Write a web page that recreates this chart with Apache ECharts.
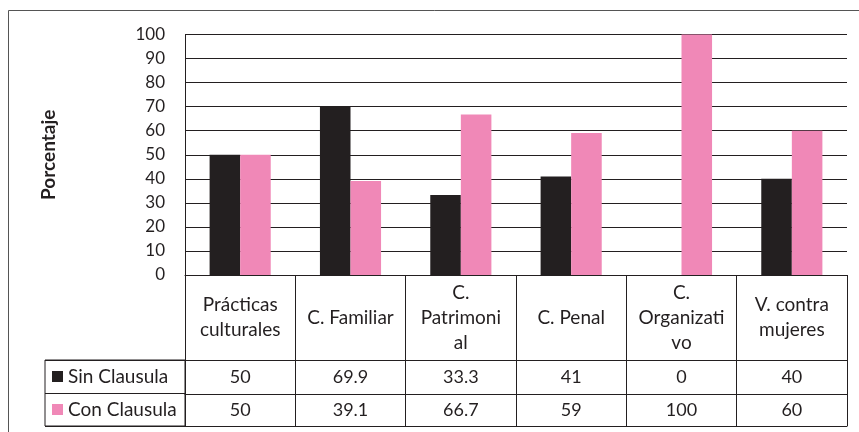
<!DOCTYPE html>
<html><head><meta charset="utf-8">
<script src="https://cdn.jsdelivr.net/npm/echarts@6/dist/echarts.min.js"></script>
<style>html,body{margin:0;padding:0;background:#fff}#c{width:859px;height:432px}</style>
</head><body><div id="c"></div>
<script>
const categories = ['Prácticas\nculturales', 'C. Familiar', 'C.\nPatrimoni\nal', 'C. Penal', 'C.\nOrganizati\nvo', 'V. contra\nmujeres'];
const seriesNames = ['Sin Clausula', 'Con Clausula'];
const sinClausula = [50, 69.9, 33.3, 41, 0, 40];
const conClausula = [50, 39.1, 66.7, 59, 100, 60];
const yTicks = [0, 10, 20, 30, 40, 50, 60, 70, 80, 90, 100];

const FONT = 'Lato';
const TXT = '#231f20';
const LINE = '#231f20';

const chart = echarts.init(document.getElementById('c'), null, {renderer: 'canvas'});
const tableAxis = (offset, tickLen, margin, formatter, showLabel, fontSize) => ({
  type: 'category', gridIndex: 0, position: 'bottom', offset: offset,
  data: categories,
  axisLine: {show: true, lineStyle: {color: LINE, width: 1}},
  axisTick: {show: tickLen > 0, length: tickLen, interval: 0, alignWithLabel: false, lineStyle: {color: LINE, width: 1}},
  axisLabel: {show: showLabel, interval: 0, margin: margin, verticalAlign: 'middle', fontFamily: FONT, fontSize: fontSize, lineHeight: 25, color: TXT, formatter: formatter},
  splitLine: {show: false}
});

chart.setOption({
  animation: false,
  backgroundColor: '#fff',
  textStyle: {fontFamily: FONT},
  graphic: [{type: 'rect', silent: true, shape: {x: 8.5, y: 10.5, width: 900, height: 500}, style: {fill: 'none', stroke: '#555', lineWidth: 1}}],
  legend: {
    data: seriesNames, orient: 'vertical', left: 52, top: 367, padding: 0,
    itemWidth: 11, itemHeight: 11, itemGap: 14, icon: 'rect',
    textStyle: {fontFamily: FONT, fontSize: 19, color: TXT}
  },
  grid: [
    {left: 185, right: 12, top: 34.5, bottom: 157, outerBoundsMode: 'none', containLabel: false},
    {left: 45, width: 140, top: 360, height: 66, show: true, borderColor: LINE, borderWidth: 1, outerBoundsMode: 'none', containLabel: false}
  ],
  xAxis: [
    tableAxis(0, 85, 42.5, (v) => v, true, 19),
    tableAxis(85, 34, 17, (v, i) => String(sinClausula[i]), true, 18),
    tableAxis(119, 32, 16, (v, i) => String(conClausula[i]), true, 18),
    tableAxis(151, 0, 0, (v) => '', false, 18),
    {type: 'value', gridIndex: 1, show: false}
  ],
  yAxis: [
    {type: 'value', gridIndex: 0, min: 0, max: 100, interval: 10,
     name: 'Porcentaje', nameLocation: 'middle', nameGap: 127,
     nameTextStyle: {fontFamily: FONT, fontSize: 19, fontWeight: 'bold', color: TXT},
     axisLine: {show: true, lineStyle: {color: LINE, width: 1}},
     axisTick: {show: false},
     axisLabel: {margin: 20, fontFamily: FONT, fontSize: 17, color: TXT, formatter: (v) => yTicks.includes(v) ? String(v) : ''},
     splitLine: {show: true, lineStyle: {color: LINE, width: 1}}},
    {type: 'category', gridIndex: 1, data: seriesNames, inverse: true,
     axisLine: {show: false}, axisTick: {show: false}, axisLabel: {show: false},
     splitLine: {show: true, lineStyle: {color: LINE, width: 1}}}
  ],
  series: [
    {name: seriesNames[0], type: 'bar', xAxisIndex: 0, yAxisIndex: 0, data: sinClausula, barWidth: '27.7%', barGap: '0%', itemStyle: {color: '#231f20'}},
    {name: seriesNames[1], type: 'bar', xAxisIndex: 0, yAxisIndex: 0, data: conClausula, barWidth: '27.7%', barGap: '0%', itemStyle: {color: '#f088b7'}}
  ]
});
</script></body></html>
